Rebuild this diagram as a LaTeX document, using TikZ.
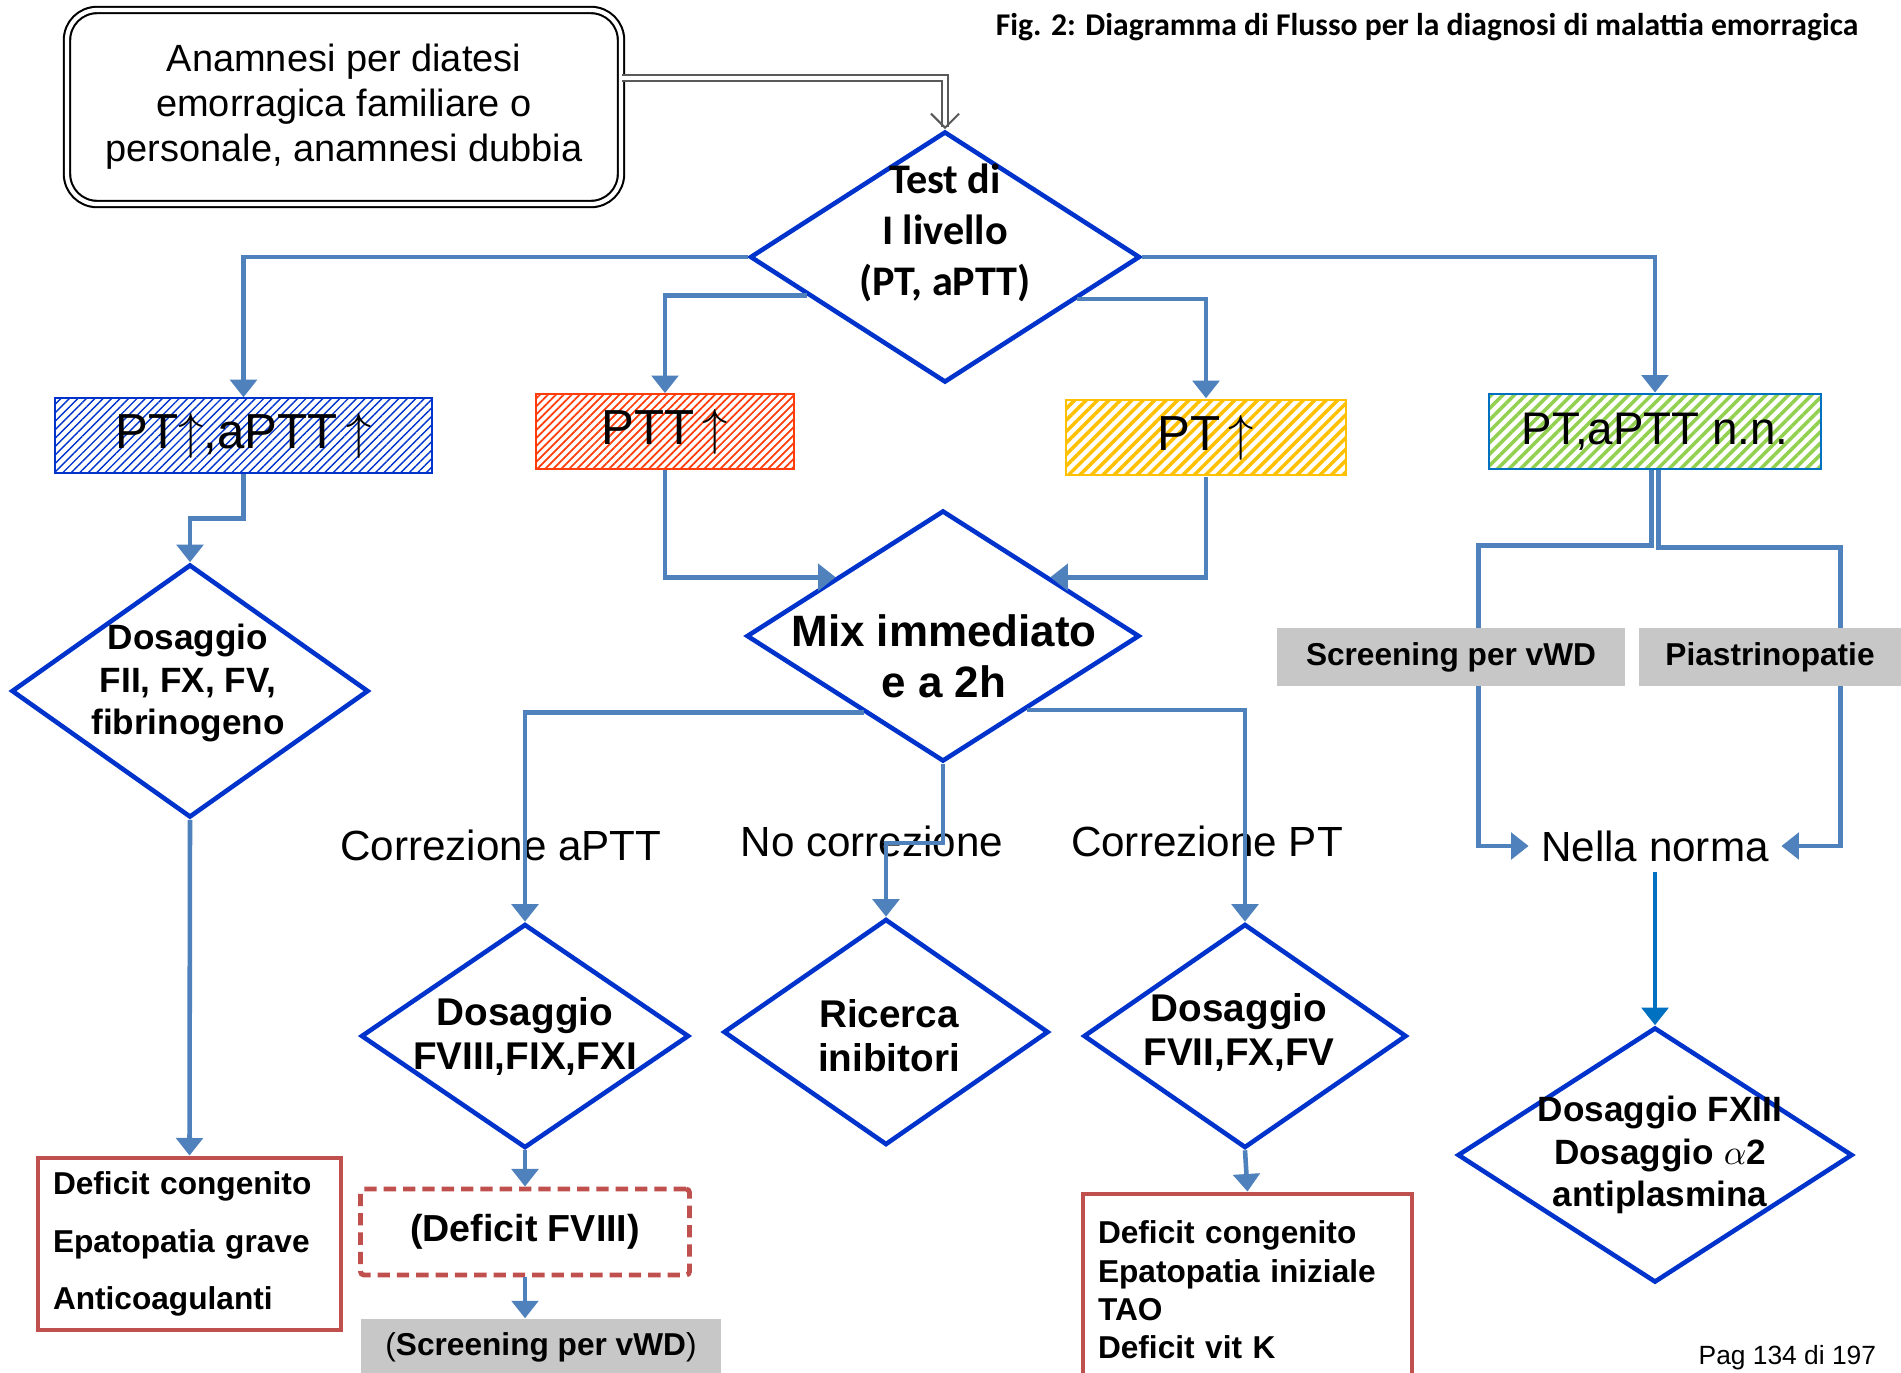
\documentclass[tikz,border=0pt]{standalone}
\usepackage{fontspec}
\setmainfont{Liberation Sans}
\newfontfamily\calibri{Carlito}
\usepackage{xcolor}
\usetikzlibrary{arrows.meta, positioning, calc, shapes.geometric, patterns.meta}

\definecolor{bordo}{RGB}{0,51,204}
\definecolor{freccia}{RGB}{79,129,189}
\definecolor{rosso}{RGB}{192,80,77}
\definecolor{arancio}{RGB}{255,60,10}
\definecolor{giallo}{RGB}{255,192,0}
\definecolor{verde}{RGB}{146,208,80}
\definecolor{azzurro}{RGB}{0,112,192}
\newcommand{\fsz}[2]{\fontsize{#1}{#2}\selectfont}
\newcommand{\su}{\,$\uparrow$}

\begin{document}
\begin{tikzpicture}[
  x=0.1mm, y=-0.1mm,
  dec/.style={diamond, draw=bordo, line width=1.3pt, inner sep=0pt},
  dectxt/.style={align=center, inner sep=0pt, font=\bfseries\fsz{11}{12.5}},
  esame/.style={rectangle, minimum height=7.5mm, inner sep=0pt, line width=0.8pt, font=\fsz{14}{16}},
  esito/.style={draw=rosso, line width=1.4pt, align=left, inner xsep=1.5mm, font=\bfseries\fsz{9}{16.4}},
  grigio/.style={fill=black!22, inner sep=0pt, font=\bfseries\fsz{9}{11}},
  etich/.style={inner sep=0pt, font=\fsz{12}{14}},
  arr/.style={draw=freccia, line width=1.3pt, -{Triangle[length=5pt,width=7.5pt]}},
  garr/.style={draw=black!65, double, double distance=1pt, line width=0.6pt, -{Straight Barb[length=4pt,width=8pt]}},
]
\useasboundingbox (0,0) rectangle (1901,1372);
\clip (0,0) rectangle (1901,1372);
\fill[white] (0,0) rectangle (1901,1372);

\node[anchor=east, inner sep=0pt, font=\calibri\bfseries\fsz{9}{11}] (titolo) at (1859,27) {Fig. 2: Diagramma di Flusso per la diagnosi di malattia emorragica};

\node[draw, double, double distance=1.2pt, line width=0.6pt, rounded corners=3mm, minimum width=55.4mm, minimum height=19.4mm, align=center, font=\fsz{10.8}{12.8}] (anam) at (344,107) {Anamnesi per diatesi\\emorragica familiare o\\personale, anamnesi dubbia};

\node[dec, minimum width=39mm, minimum height=25.1mm] (test) at (945,257) {};
\node[dectxt, font=\calibri\bfseries\fsz{12}{14.5}] (testT) at (945,233) {Test di\\I livello\\(PT, aPTT)};

\node[esame, minimum width=37.7mm, draw=bordo, pattern={Lines[angle=45,distance=1.7pt,line width=0.4pt]}, pattern color=bordo] (ptapt) at (243.5,435.5) {PT$\uparrow$,aPTT\su};
\node[esame, minimum width=25.8mm, draw=arancio, pattern={Lines[angle=45,distance=1.6pt,line width=0.5pt]}, pattern color=arancio] (ptt) at (665,431.5) {PTT\su};
\node[esame, minimum width=28mm, draw=giallo, pattern={Lines[angle=45,distance=2.3pt,line width=1pt]}, pattern color=giallo] (pt) at (1206,437.5) {PT\su};
\node[esame, minimum width=33.2mm, draw=azzurro, pattern={Lines[angle=45,distance=2.3pt,line width=1pt]}, pattern color=verde, font=\fsz{13}{15}] (nn) at (1655,431.5) {PT,aPTT n.n.};

\node[dec, minimum width=35.7mm, minimum height=25.3mm] (fII) at (190,691) {};
\node[dectxt, font=\bfseries\fsz{10}{12}] (fIIT) at (188,683) {Dosaggio\\FII, FX, FV,\\fibrinogeno};
\node[esito, text width=27.3mm, minimum height=17.2mm] (es1) at (189.5,1244) {Deficit congenito\\Epatopatia grave\\Anticoagulanti};

\node[dec, minimum width=39.3mm, minimum height=25.1mm] (mix) at (943,636) {};
\node[dectxt, font=\bfseries\fsz{12.5}{14.5}] (mixT) at (944,656) {Mix immediato\\e a 2h};

\node[etich] (corrA) at (501,845) {Correzione aPTT};
\node[etich] (noCorr) at (872,841) {No correzione};
\node[etich] (corrPT) at (1207,841) {Correzione PT};

\node[dec, minimum width=32.8mm, minimum height=22.4mm] (fVIII) at (525,1036) {};
\node[dectxt] (fVIIIT) at (525,1036) {Dosaggio\\FVIII,FIX,FXI};
\node[dec, minimum width=32.5mm, minimum height=22.6mm] (ric) at (886,1032) {};
\node[dectxt] (ricT) at (889,1036) {Ricerca\\inibitori};
\node[dec, minimum width=32.3mm, minimum height=22.4mm] (fVII) at (1245,1036) {};
\node[dectxt] (fVIIT) at (1239,1032) {Dosaggio\\FVII,FX,FV};

\node[draw=rosso, dashed, dash pattern=on 3.5pt off 2pt, line width=1.4pt, rounded corners=1pt, minimum width=32.9mm, minimum height=8.6mm, font=\bfseries\fsz{10.7}{12}] (dFVIII) at (525,1232) {(Deficit FVIII)};
\node[grigio, minimum width=36mm, minimum height=5.6mm] (scr2) at (541,1347) {{\mdseries(}Screening per vWD{\mdseries)}};
\node[esito, text width=29.9mm, minimum height=19.2mm, font=\bfseries\fsz{9}{10.9}] (es2) at (1247.5,1290) {Deficit congenito\\Epatopatia iniziale\\TAO\\Deficit vit K};

\node[etich, inner xsep=1.2mm, inner ysep=1mm] (norma) at (1655,846) {Nella norma};
\node[dec, minimum width=39.5mm, minimum height=25.5mm] (fXIII) at (1655,1155) {};
\node[dectxt, font=\bfseries\fsz{10}{12}] (fXIIIT) at (1660,1155) {Dosaggio FXIII\\Dosaggio $\alpha$2\\antiplasmina};

\node[anchor=base west, inner sep=0pt, font=\fsz{7.5}{9}] (pag) at (1698,1364) {Pag 134 di 197};

\draw[garr] ([yshift=2.9mm]anam.east) -| (test.north);
\draw[arr] (test.west) -| (ptapt.north);
\draw[arr] ($(test.west)!0.3!(test.south)$) -| (ptt.north);
\draw[arr] ($(test.east)!0.33!(test.south)$) -| (pt.north);
\draw[arr] (test.east) -| (nn.north);
\draw[arr] (ptapt.south) -- ++(0,45) -| (fII.north);
\draw[arr] (fII.south) -- (es1.north);
\draw[arr] (ptt.south) |- ($(mix.west)!0.46!(mix.north)$);
\draw[arr] (pt.south) |- ($(mix.east)!0.46!(mix.north)$);
\draw[arr] ($(mix.west)!0.6!(mix.south)$) -| (fVIII.north);
\draw[arr] (mix.south) -- ++(0,79) -| (ric.north);
\draw[arr] ($(mix.east)!0.58!(mix.south)$) -| (fVII.north);
\draw[arr] (fVIII.south) -- (dFVIII.north);
\draw[arr] (dFVIII.south) -- (dFVIII.south |- scr2.north);
\draw[arr] (fVII.south) -- (es2.north);
\draw[arr] ([xshift=-.35mm]nn.south) -- ++(0,75) -| ([xshift=-5mm]norma.west) -- (norma.west);
\draw[arr] ([xshift=.35mm]nn.south) -- ++(0,77) -| ([xshift=5.9mm]norma.east) -- (norma.east);
\draw[arr, draw=azzurro] (norma.south) -- (fXIII.north);

\node[grigio, minimum width=34.8mm, minimum height=5.8mm] (scr1) at (1451,657) {Screening per vWD};
\node[grigio, minimum width=26.2mm, minimum height=5.8mm] (piastr) at (1770,657) {Piastrinopatie};
\end{tikzpicture}
\end{document}
